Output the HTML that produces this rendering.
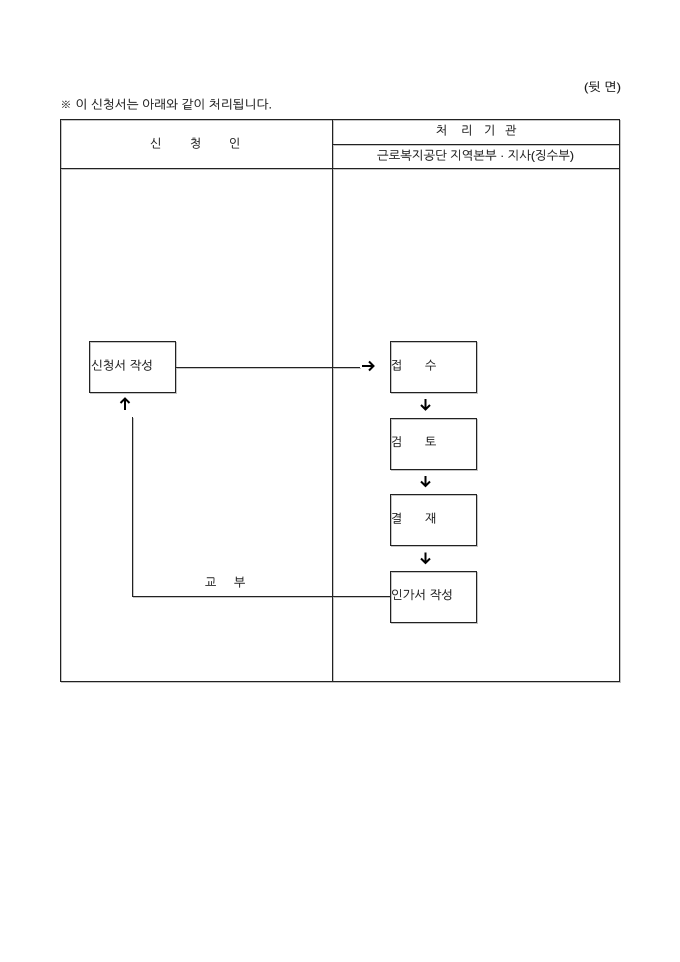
<!DOCTYPE html>
<html lang="ko">
<head>
<meta charset="utf-8">
<title>처리 절차</title>
<style>
html,body{margin:0;padding:0;background:#fff;width:680px;height:962px;overflow:hidden}
svg{display:block}
text{font-family:"Liberation Sans","NanumGothic","Noto Sans CJK KR",sans-serif;font-size:12px;fill:#1a1a1a;stroke:#1a1a1a;stroke-width:.12}
.l{stroke:#222;stroke-width:1;fill:none;shape-rendering:crispEdges}
.s .l{stroke:#c4c4c4}
.a{stroke:#000;stroke-width:2;fill:none}
</style>
</head>
<body>
<svg width="680" height="962" viewBox="0 0 680 962" xmlns="http://www.w3.org/2000/svg">
<g class="s" transform="translate(1 1)">
<rect x="60.5" y="119.5" width="559" height="562" class="l"/>
<path class="l" d="M332.5 120V681M333 144.5H619M61 168.5H619"/>
<rect x="89.5" y="341.5" width="86" height="51" class="l"/>
<rect x="390.5" y="341.5" width="86" height="51" class="l"/>
<rect x="390.5" y="418.5" width="86" height="51" class="l"/>
<rect x="390.5" y="494.5" width="86" height="51" class="l"/>
<rect x="390.5" y="571.5" width="86" height="51" class="l"/>
<path class="l" d="M176 367.5H360M132.5 417V596.5H390"/>
</g>

<rect x="60.5" y="119.5" width="559" height="562" class="l"/>
<path class="l" d="M332.5 120V681M333 144.5H619M61 168.5H619"/>

<rect x="89.5" y="341.5" width="86" height="51" class="l"/>
<rect x="390.5" y="341.5" width="86" height="51" class="l"/>
<rect x="390.5" y="418.5" width="86" height="51" class="l"/>
<rect x="390.5" y="494.5" width="86" height="51" class="l"/>
<rect x="390.5" y="571.5" width="86" height="51" class="l"/>

<path class="l" d="M176 367.5H360M132.5 417V596.5H390"/>

<path class="a" d="M362 366H373M369 361.5L373.5 366L369 370.5"/>
<path class="a" d="M125 410V398.5M120.5 403L125 398.5L129.5 403"/>
<path class="a" d="M425.5 399V409.5M421 405L425.5 409.5L430 405"/>
<path class="a" d="M425.5 476V486M421 481.5L425.5 486L430 481.5"/>
<path class="a" d="M425.5 552.5V563M421 558.5L425.5 563L430 558.5"/>

<text x="584" y="91" textLength="37" lengthAdjust="spacingAndGlyphs" xml:space="preserve">(뒷 면)</text>
<text x="60" y="108.5" textLength="212" lengthAdjust="spacingAndGlyphs" xml:space="preserve">※ 이 신청서는 아래와 같이 처리됩니다.</text>

<text x="150" y="147.5">신</text>
<text x="190" y="147.5">청</text>
<text x="229" y="147.5">인</text>

<text x="436" y="134.5">처</text>
<text x="461" y="134.5">리</text>
<text x="484" y="134.5">기</text>
<text x="505" y="134.5">관</text>

<text x="377" y="159.5" textLength="197" lengthAdjust="spacingAndGlyphs" xml:space="preserve">근로복지공단 지역본부 · 지사(징수부)</text>

<text x="91" y="369.5" textLength="62" lengthAdjust="spacingAndGlyphs" xml:space="preserve">신청서 작성</text>

<text x="391" y="369.5">접</text>
<text x="425" y="369.5">수</text>
<text x="391" y="446">검</text>
<text x="425" y="446">토</text>
<text x="391" y="522.5">결</text>
<text x="425" y="522.5">재</text>
<text x="391" y="599" textLength="62" lengthAdjust="spacingAndGlyphs" xml:space="preserve">인가서 작성</text>

<text x="205" y="586.5">교</text>
<text x="234" y="586.5">부</text>
</svg>
</body>
</html>
